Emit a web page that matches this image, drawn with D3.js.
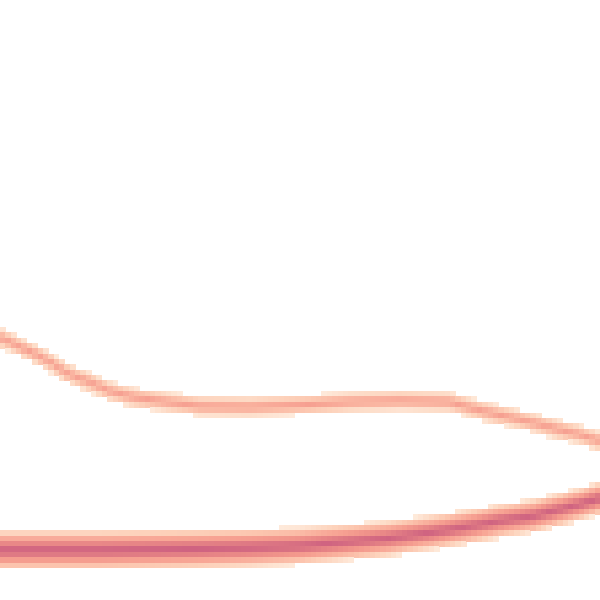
<!DOCTYPE html>
<html>
<head>
<meta charset="utf-8">
<script src="https://cdn.jsdelivr.net/npm/d3@7"></script>
<style>
  html, body { margin: 0; padding: 0; background: #ffffff; }
  svg { display: block; }
</style>
</head>
<body>
<svg id="chart" width="600" height="600"></svg>
<script>
// ---- data ----
// upper band: centre line of the series (x: 0..100, y: 0..100)
const upperX = [0, 5.5, 8.3, 11.2, 15, 18.3, 22.2, 27.8, 33.3, 41.7, 50, 58.3, 66.7, 75, 80.5, 86.2, 90, 92.8, 96.2, 100];
const upperY = [43.8, 41.2, 39.7, 37.8, 36.3, 34.8, 33.8, 33.0, 32.3, 32.2, 32.5, 33.0, 33.2, 33.0, 31.5, 30.2, 29.3, 28.5, 27.7, 26.5];
const upperSpread = [1.1, 1.1, 1.1, 1.1, 1.1, 1.1, 1.1, 1.1, 1.1, 1.1, 1.1, 1.1, 1.1, 1.1, 1.1, 1.1, 1.1, 1.1, 1.1, 1.1];
const upperPeak = 32;

// lower band: centre line of the series
const lowerX = [0, 16.7, 33.3, 41.7, 50, 58.3, 65, 72.2, 77.8, 83.3, 88.8, 92.8, 96.7, 100];
const lowerY = [8.3, 8.3, 8.5, 8.7, 9.0, 9.7, 10.3, 11.3, 12.2, 13.2, 14.0, 15.0, 16.0, 17.0];
const lowerSpread = [1.12, 1.12, 1.1, 1.08, 1.05, 1.02, 1.0, 0.98, 0.96, 0.95, 0.94, 0.93, 0.92, 0.92];
const lowerPeak = 1000;

// colour ramp, low density -> high density
const rampColors = ["#feeadb", "#fdd8c2", "#fcc6ae", "#f9b09e", "#f7a090", "#ee8f89", "#e27e84", "#d76f82", "#cf6381"];
const densityDomain = [1, 1000];
const gridCells = 112;

// ---- drawing ----
const W = 600, H = 600;
const svg = d3.select("#chart");
const x = d3.scaleLinear().domain([0, 100]).range([0, W]);
const y = d3.scaleLinear().domain([0, 100]).range([H, 0]);

const series = [
  { xs: upperX, ys: upperY, sp: upperSpread, peak: upperPeak },
  { xs: lowerX, ys: lowerY, sp: lowerSpread, peak: lowerPeak }
].map(s => ({
  centre: d3.scaleLinear().domain(s.xs.map(x)).range(s.ys.map(y)).clamp(true),
  spread: d3.scaleLinear().domain(s.xs.map(x)).range(s.sp.map(v => Math.abs(y(v) - y(0)))).clamp(true),
  peak: s.peak
}));

const color = d3.scaleSequentialLog(d3.interpolateRgbBasis(rampColors))
  .domain(densityDomain).clamp(true);

const cs = W / gridCells;
const cells = [];
for (let i = 0; i < gridCells; i++) {
  const cx = (i + 0.5) * cs;
  for (let j = 0; j < gridCells; j++) {
    const cy = (j + 0.5) * cs;
    let v = 0;
    series.forEach(s => {
      const d = Math.abs(cy - s.centre(cx));
      v += s.peak * Math.pow(10, -d / s.spread(cx));
    });
    if (v >= densityDomain[0]) cells.push({ i, j, v });
  }
}

svg.append("g")
  .attr("shape-rendering", "crispEdges")
  .selectAll("rect")
  .data(cells)
  .join("rect")
  .attr("x", d => d.i * cs)
  .attr("y", d => d.j * cs)
  .attr("width", cs + 0.5)
  .attr("height", cs + 0.5)
  .attr("fill", d => color(d.v));
</script>
</body>
</html>
